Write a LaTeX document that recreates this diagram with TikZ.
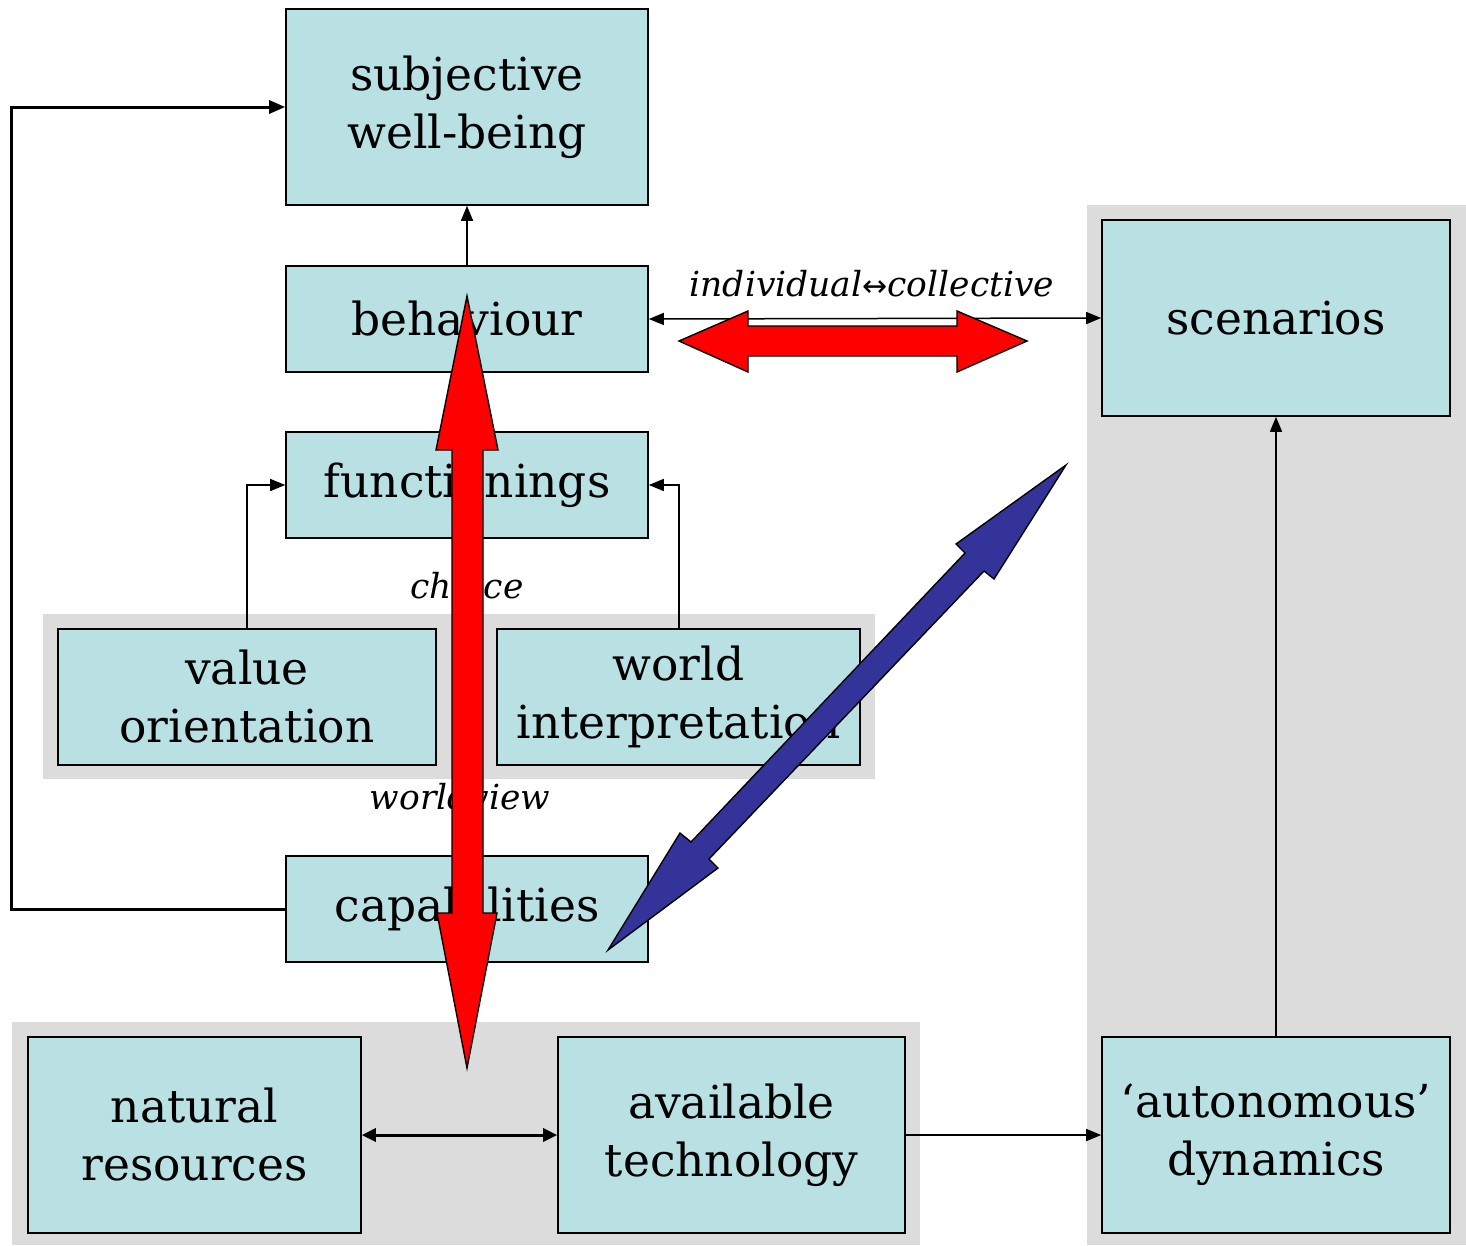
\documentclass[tikz,border=0pt]{standalone}
\usepackage{fontspec}
\setmainfont{DejaVu Serif}
\newfontfamily\arrowfont{DejaVu Sans}
\usetikzlibrary{arrows.meta}
\definecolor{boxc}{HTML}{B9E0E3}
\definecolor{grp}{HTML}{DCDCDC}
\definecolor{bigred}{HTML}{FF0000}
\definecolor{bigblue}{HTML}{333399}
\tikzset{
  box/.style={draw=black, fill=boxc, line width=1.6pt, align=center,
    inner sep=0pt, font=\fontsize{45.5}{58}\selectfont},
  group/.style={fill=grp, draw=none},
  link/.style={line width=1.5pt, -{Triangle[length=15pt,width=12pt]}},
  dlink/.style={line width=1.5pt, {Triangle[length=15pt,width=12pt]}-{Triangle[length=15pt,width=12pt]}},
  note/.style={font=\itshape\fontsize{34.5}{40}\selectfont, inner sep=0pt},
  fatarrow/.style={line width=1.4pt, draw=black, line join=miter}
}
\begin{document}
\begin{tikzpicture}[x=1pt, y=-1pt]
\useasboundingbox (0,0) rectangle (1466,1245);

% grey groupings
\fill[group] (43,614) rectangle (875,779);
\fill[group] (12,1022) rectangle (920,1245);
\fill[group] (1087,205) rectangle (1466,1245);

% boxes
\node[box, minimum width=362pt, minimum height=196pt] (swb) at (467,107) {subjective\\ well-being};
\node[box, minimum width=362pt, minimum height=106pt] (beh) at (467,319) {behaviour};
\node[box, minimum width=362pt, minimum height=106pt] (fun) at (467,485) {functionings};
\node[box, minimum width=378pt, minimum height=136pt] (val) at (247,697) {value\\ orientation};
\node[box, minimum width=363pt, minimum height=136pt] (wor) at (678.5,697) {world\\ interpretation};
\node[box, minimum width=362pt, minimum height=106pt] (cap) at (467,909) {capabilities};
\node[box, minimum width=333pt, minimum height=196pt] (nat) at (194.5,1135) {natural\\ resources};
\node[box, minimum width=347pt, minimum height=196pt] (tec) at (731.5,1135) {available\\ technology};
\node[box, minimum width=348pt, minimum height=196pt] (sce) at (1276,318) {scenarios};
\node[box, minimum width=348pt, minimum height=196pt] (aut) at (1276,1135) {`autonomous'\\ dynamics};

% labels
\node[note] (ic) at (872,284) {individual{\arrowfont\upshape\fontsize{30}{36}\selectfont ↔}collective};
\node[note] (cho) at (467,586) {choice};
\node[note] (wv) at (460,797) {worldview};

% connectors
\coordinate (lc) at (11,909);
\coordinate (lt) at (11,107);
\draw[line width=3pt, -{Triangle[length=16pt,width=13pt]}] (cap.west) -- (lc) -- (lt) -- (swb.west);
\draw[link] (beh.north) -- (swb.south);
\draw[dlink] (beh.east) -- (sce.west);
\draw[link] (val.north -| 247,0) |- (fun.west);
\draw[link] (wor.north -| 679,0) |- (fun.east);
\draw[line width=3pt, {Triangle[length=14pt,width=13pt]}-{Triangle[length=14pt,width=13pt]}] (nat.east) -- (tec.west);
\draw[link] (tec.east) -- (aut.west);
\draw[link] (aut.north) -- (sce.south);

% block arrows
\draw[fatarrow, fill=bigred] (679,341) -- (748,311) -- (748,326) -- (957,326) -- (957,311)
  -- (1027,341) -- (957,372) -- (957,356) -- (748,356) -- (748,372) -- cycle;
\draw[fatarrow, fill=bigred] (467,296) -- (498,450) -- (483,450) -- (483,913) -- (497,913)
  -- (467,1068) -- (437,913) -- (452,913) -- (452,450) -- (436,450) -- cycle;
\draw[fatarrow, fill=bigblue] (1066,465) -- (994,579) -- (984,571) -- (709,859) -- (718,868)
  -- (608,950) -- (680,833) -- (691,842) -- (965,553) -- (956,544) -- cycle;
\end{tikzpicture}
\end{document}
